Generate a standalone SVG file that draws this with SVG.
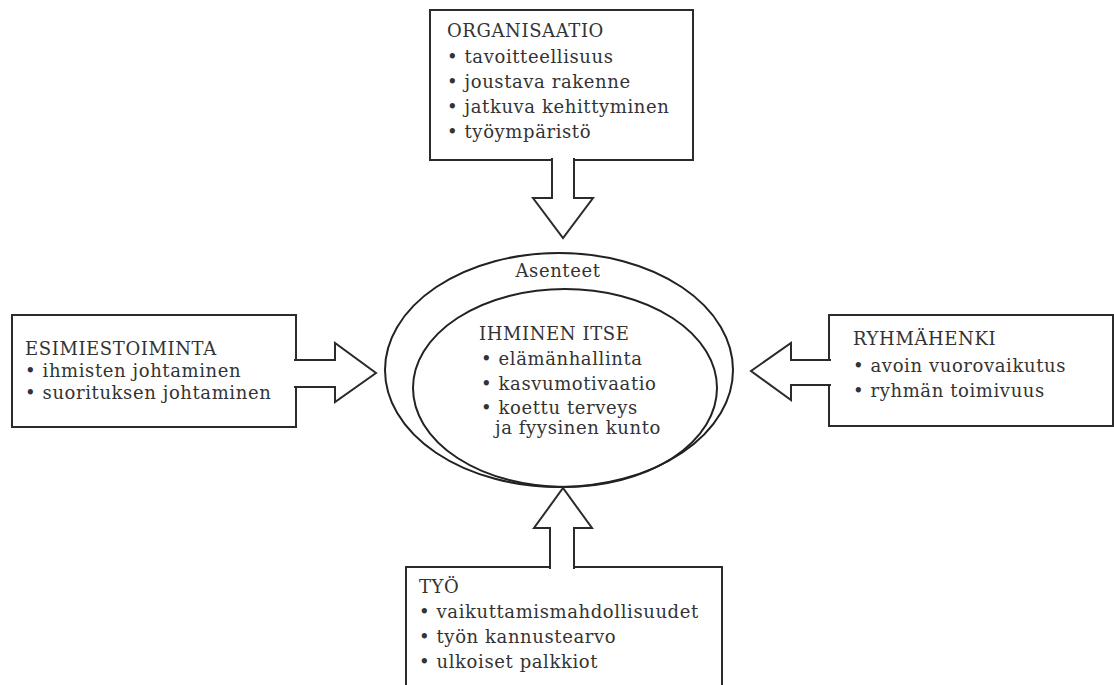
<svg xmlns="http://www.w3.org/2000/svg" width="1114" height="685" viewBox="0 0 1114 685">
<style>
.box{fill:#fff;stroke:#2b2b2b;stroke-width:2}
.ell{fill:none;stroke:#222;stroke-width:2}
.arr{fill:#fff;stroke:#2b2b2b;stroke-width:2;stroke-linejoin:miter}
text{font-family:"DejaVu Serif","Liberation Serif",serif;font-size:18px;letter-spacing:0.6px;fill:#333}
</style>
<rect width="1114" height="685" fill="#fff"/>
<g id="organisaatio">
<rect class="box" x="430" y="10" width="263" height="150"/>
<text x="447" y="37">ORGANISAATIO</text>
<text x="447" y="63">• tavoitteellisuus</text>
<text x="447" y="88">• joustava rakenne</text>
<text x="447" y="113">• jatkuva kehittyminen</text>
<text x="447" y="138">• työympäristö</text>
</g>
<g id="esimiestoiminta">
<rect class="box" x="12" y="315" width="284" height="112"/>
<text x="25" y="355">ESIMIESTOIMINTA</text>
<text x="25" y="377">• ihmisten johtaminen</text>
<text x="25" y="399">• suorituksen johtaminen</text>
</g>
<g id="ryhmahenki">
<rect class="box" x="829" y="315" width="284" height="111"/>
<text x="853" y="345">RYHMÄHENKI</text>
<text x="853" y="372">• avoin vuorovaikutus</text>
<text x="853" y="397">• ryhmän toimivuus</text>
</g>
<g id="tyo">
<rect class="box" x="406" y="567" width="316" height="140"/>
<text x="419" y="593">TYÖ</text>
<text x="419" y="618">• vaikuttamismahdollisuudet</text>
<text x="419" y="643">• työn kannustearvo</text>
<text x="419" y="668">• ulkoiset palkkiot</text>
</g>
<g id="asenteet">
<ellipse class="ell" cx="559" cy="370" rx="174" ry="117"/>
<text x="558" y="277" text-anchor="middle">Asenteet</text>
</g>
<g id="ihminen-itse">
<ellipse class="ell" cx="565" cy="388" rx="152" ry="99"/>
<text x="479" y="340">IHMINEN ITSE</text>
<text x="481" y="365">• elämänhallinta</text>
<text x="481" y="390">• kasvumotivaatio</text>
<text x="481" y="414">• koettu terveys</text>
<text x="495" y="434">ja fyysinen kunto</text>
</g>
<g id="connectors">
<path class="arr" d="M552,158 V198 H533 L563,238 L593,198 H574 V158"/>
<path class="arr" d="M294,360 H335 V343 L376,373 L335,402 V387 H294"/>
<path class="arr" d="M831,360 H791 V343 L751,371 L791,400 V385 H831"/>
<path class="arr" d="M550,569 V528 H534 L563,488 L592,528 H574 V569"/>
</g>
</svg>
